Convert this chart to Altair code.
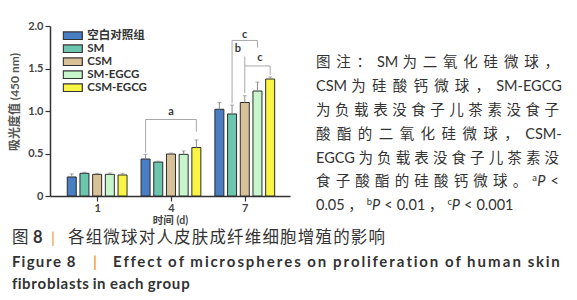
import altair as alt
import pandas as pd

# ---------------- data ----------------
DAYS = ["1", "4", "7"]
SERIES = ["空白对照组", "SM", "CSM", "SM-EGCG", "CSM-EGCG"]
COLORS = ["#4a7ec4", "#6cc5ad", "#d9c197", "#c8f5cc", "#f9f542"]

MEAN_BLANK = [0.224, 0.435, 1.02]
MEAN_SM = [0.267, 0.40, 0.965]
MEAN_CSM = [0.255, 0.494, 1.10]
MEAN_SMEGCG = [0.255, 0.49, 1.235]
MEAN_CSMEGCG = [0.247, 0.57, 1.376]

ERR_BLANK = [0.036, 0.055, 0.08]
ERR_SM = [0.013, 0.01, 0.105]
ERR_CSM = [0.012, 0.011, 0.08]
ERR_SMEGCG = [0.015, 0.04, 0.105]
ERR_CSMEGCG = [0.02, 0.09, 0.024]

# significance brackets: (day index, left series, right series, top value, left-leg bottom, right-leg bottom)
BRACKETS = [
    (1, 0, 4, 0.90, 0.51, 0.757),
    (2, 1, 3, 1.83, 1.09, 1.745),
    (2, 2, 4, 1.53, 1.21, 1.42),
]
# extra stem: (day index, series, from value, to value)
STEMS = [(2, 2, 1.53, 1.64)]
# labels: (day index, series position, value, text)
SIG_LABELS = [(1, 2.0, 0.99, "a"), (2, 2.0, 1.89, "c"), (2, 1.45, 1.73, "b"), (2, 3.2, 1.62, "c")]

Y_TITLE = "吸光度值 (450 nm)"
X_TITLE = "时间 (d)"

NOTE_LINES = [
    "图注：SM 为二氧化硅微球，",
    "CSM 为硅酸钙微球，SM-EGCG",
    "为负载表没食子儿茶素没食子",
    "酸酯的二氧化硅微球，CSM-",
    "EGCG 为负载表没食子儿茶素没",
    "食子酸酯的硅酸钙微球。ᵃP <",
    "0.05，ᵇP < 0.01，ᶜP < 0.001",
]
CAP1_HEAD = ["图", "8"]
CAP1_TEXT = "各组微球对人皮肤成纤维细胞增殖的影响"
CAP2_HEAD = "Figure 8"
CAP2_TEXT = "Effect of microspheres on proliferation of human skin"
CAP3_TEXT = "fibroblasts in each group"
PIPE = "|"

# ---------------- layout helpers ----------------
FONT = "Lato, 'Noto Sans CJK SC', 'DejaVu Sans'"
STEP = 0.172
X_DOMAIN = [-0.571, 2.545]
LEFT, TOP = 50, 26
W, H = 240, 170

means = [MEAN_BLANK, MEAN_SM, MEAN_CSM, MEAN_SMEGCG, MEAN_CSMEGCG]
errs = [ERR_BLANK, ERR_SM, ERR_CSM, ERR_SMEGCG, ERR_CSMEGCG]


def pos(g, s):
    return g + (s - 2) * STEP


rows = []
for si, name in enumerate(SERIES):
    for gi, d in enumerate(DAYS):
        m = means[si][gi]
        e = errs[si][gi]
        rows.append(dict(series=name, day=d, pos=pos(gi, si), mean=m, top=m + e))
bars_df = pd.DataFrame(rows)

seg = []
for g, a, b, top, lb, rb in BRACKETS:
    xa, xb = pos(g, a), pos(g, b)
    seg.append(dict(x=xa, x2=xb, y=top, y2=top))
    seg.append(dict(x=xa, x2=xa, y=lb, y2=top))
    seg.append(dict(x=xb, x2=xb, y=rb, y2=top))
for g, s, y0, y1 in STEMS:
    seg.append(dict(x=pos(g, s), x2=pos(g, s), y=y0, y2=y1))
seg_df = pd.DataFrame(seg)
lab_df = pd.DataFrame([dict(x=pos(g, s), y=v, t=t) for g, s, v, t in SIG_LABELS])

LAT = {
    'a': .51, 'b': .56, 'c': .46, 'd': .56, 'e': .53, 'f': .33, 'g': .50, 'h': .56, 'i': .24,
    'j': .24, 'k': .51, 'l': .24, 'm': .83, 'n': .56, 'o': .56, 'p': .56, 'q': .56, 'r': .37,
    's': .42, 't': .35, 'u': .56, 'v': .50, 'w': .77, 'x': .49, 'y': .50, 'z': .44,
    'C': .65, 'E': .56, 'F': .53, 'G': .72, 'M': .86, 'P': .57, 'S': .50,
    '.': .20, ',': .20, ' ': .19, '-': .32, '<': .58, '|': .30, '(': .30, ')': .30,
}
for dgt in "0123456789":
    LAT[dgt] = .58
SUP = {'ᵃ': 'a', 'ᵇ': 'b', 'ᶜ': 'c'}


def is_cjk(ch):
    return ord(ch) >= 0x3000


def est(s, bold=False):
    w = 0.0
    for ch in s:
        w += 1.0 if is_cjk(ch) else LAT.get(ch, 0.55)
    return w * (1.05 if bold else 1.0)


texts = []


def add(px, py, t, size, kind="normal", color="#333333"):
    texts.append(dict(px=px - LEFT, py=py - TOP, text=t, size=size, kind=kind, color=color))


def note_words(line):
    words, cur = [], ""
    for ch in line:
        if ch == " ":
            if cur:
                words.append(cur)
                cur = ""
        elif is_cjk(ch):
            if cur:
                words.append(cur)
                cur = ""
            words.append(ch)
        else:
            cur += ch
    if cur:
        words.append(cur)
    return words


def word_parts(word, fs):
    parts, cur = [], ""
    for ch in word:
        if ch in SUP or ch == "P":
            if cur:
                parts.append((cur, "normal", est(cur) * fs))
                cur = ""
            if ch in SUP:
                parts.append((SUP[ch], "sup", est(SUP[ch]) * fs * 0.65))
            else:
                parts.append(("P", "italic", est("P") * fs))
        else:
            cur += ch
    if cur:
        parts.append((cur, "normal", est(cur) * fs))
    return parts


NOTE_FS = 14.5
NOTE_X0, NOTE_X1 = 316, 559
for i, line in enumerate(NOTE_LINES):
    yc = 63.3 + 23.8 * i
    words = [word_parts(w, NOTE_FS) for w in note_words(line)]
    widths = [sum(p[2] for p in w) for w in words]
    x1 = NOTE_X1 if i < len(NOTE_LINES) - 1 else 513
    gap = (x1 - NOTE_X0 - sum(widths)) / (len(words) - 1)
    x = NOTE_X0
    for w, ww in zip(words, widths):
        xx = x
        for t, kind, pw in w:
            if kind == "sup":
                add(xx, yc - 4, t, NOTE_FS * 0.65, "normal")
            else:
                add(xx, yc, t, NOTE_FS, kind)
            xx += pw
        x += ww + gap


def justify_chars(text, x0, x1, yc, fs, kind):
    ws = [est(c, kind == "bold") * fs for c in text]
    gap = (x1 - x0 - sum(ws)) / (len(text) - 1)
    x = x0
    for c, w in zip(text, ws):
        if c != " ":
            add(x, yc, c, fs, kind)
        x += w + gap


ORANGE = "#e9a13b"
# caption line 1
add(12, 238, CAP1_HEAD[0], 16.5, "normal")
add(33, 238, CAP1_HEAD[1], 16.5, "bold")
add(51, 238, PIPE, 16, "normal", ORANGE)
justify_chars(CAP1_TEXT, 68, 385, 238, 16.5, "normal")
# caption line 2
justify_chars(CAP2_HEAD, 12, 76, 262, 15, "bold")
add(93, 262, PIPE, 15, "bold", ORANGE)
justify_chars(CAP2_TEXT, 113, 560, 262, 15, "bold")
# caption line 3
justify_chars(CAP3_TEXT, 12, 190, 284, 15, "bold")

text_df = pd.DataFrame(texts)

# ---------------- chart ----------------
xs = alt.Scale(domain=X_DOMAIN, nice=False, zero=False)
ys = alt.Scale(domain=[0, 2], nice=False)

legend = alt.Legend(
    title=None, orient="none", legendX=12.3, legendY=3.2,
    symbolType="M-1,-0.4H1V0.4H-1Z", symbolSize=361,
    symbolStrokeColor="#333333", symbolStrokeWidth=1.2, symbolOpacity=1,
    labelFont=FONT, labelFontSize=11.5, labelFontWeight="bold", labelColor="#333333",
    clipHeight=13, rowPadding=0, labelOffset=4, padding=0, offset=0,
)

bars = alt.Chart(bars_df).mark_bar(size=9, stroke="#2b2b2b", strokeWidth=1).encode(
    x=alt.X("pos:Q", scale=xs, axis=alt.Axis(
        values=[0, 1, 2], labelExpr="['1','4','7'][datum.value]", grid=False,
        domainColor="#333333", domainWidth=1.5, tickColor="#333333", tickWidth=1.2, tickSize=5,
        labelFont=FONT, labelFontSize=11, labelFontWeight="bold", labelColor="#444444", labelPadding=1,
        title=X_TITLE, titleFont=FONT, titleFontSize=10.5, titleFontWeight="bold", titleColor="#444444",
        titleX=120, titleY=24, titleBaseline="middle", titleAlign="center",
    )),
    y=alt.Y("mean:Q", scale=ys, axis=alt.Axis(
        values=[0, 0.5, 1, 1.5, 2], labelExpr="datum.value == 0 ? '0' : format(datum.value, '.1f')",
        grid=False, domainColor="#333333", domainWidth=1.5, tickColor="#333333", tickWidth=1.2, tickSize=5,
        labelFont=FONT, labelFontSize=11, labelFontWeight="bold", labelColor="#444444", labelPadding=2,
        title=Y_TITLE, titleFont=FONT, titleFontSize=12, titleFontWeight="bold", titleColor="#555555",
        titleX=-36, titleY=75.5, titleAngle=270, titleAlign="center", titleBaseline="middle",
    )),
    color=alt.Color("series:N", scale=alt.Scale(domain=SERIES, range=COLORS), legend=legend, sort=SERIES),
)

err = alt.Chart(bars_df).mark_rule(color="#8a8a8a", strokeWidth=1).encode(
    x=alt.X("pos:Q", scale=xs), y=alt.Y("mean:Q", scale=ys), y2="top:Q"
)
caps = alt.Chart(bars_df).mark_tick(color="#8a8a8a", thickness=1, size=4, orient="horizontal").encode(
    x=alt.X("pos:Q", scale=xs), y=alt.Y("top:Q", scale=ys)
)
brk = alt.Chart(seg_df).mark_rule(color="#a8a8a8", strokeWidth=1).encode(
    x=alt.X("x:Q", scale=xs), x2="x2:Q", y=alt.Y("y:Q", scale=ys), y2="y2:Q"
)
sig = alt.Chart(lab_df).mark_text(font=FONT, fontSize=11, fontWeight="bold", color="#3a3a3a",
                                   baseline="middle", align="center").encode(
    x=alt.X("x:Q", scale=xs), y=alt.Y("y:Q", scale=ys), text="t:N"
)

plot = alt.layer(bars, err, caps, brk, sig)


def text_layer(kind):
    df = text_df[text_df["kind"] == kind]
    weight = "bold" if kind == "bold" else "normal"
    style = "italic" if kind == "italic" else "normal"
    return alt.Chart(df).mark_text(align="left", baseline="middle", font=FONT,
                                   fontWeight=weight, fontStyle=style).encode(
        x=alt.X("px:Q", scale=None, axis=None),
        y=alt.Y("py:Q", scale=None, axis=None),
        text="text:N",
        size=alt.Size("size:Q", scale=None, legend=None),
        color=alt.Color("color:N", scale=None, legend=None),
    )


chart = alt.layer(plot, text_layer("normal"), text_layer("bold"), text_layer("italic")).resolve_scale(
    x="independent", y="independent", color="independent", size="independent"
).properties(
    width=W, height=H, autosize="none",
    padding={"left": LEFT, "top": TOP, "right": 577 - LEFT - W, "bottom": 300 - TOP - H},
).configure_view(stroke=None)

chart.save("out.html", embed_options={"renderer": "svg", "actions": False})
